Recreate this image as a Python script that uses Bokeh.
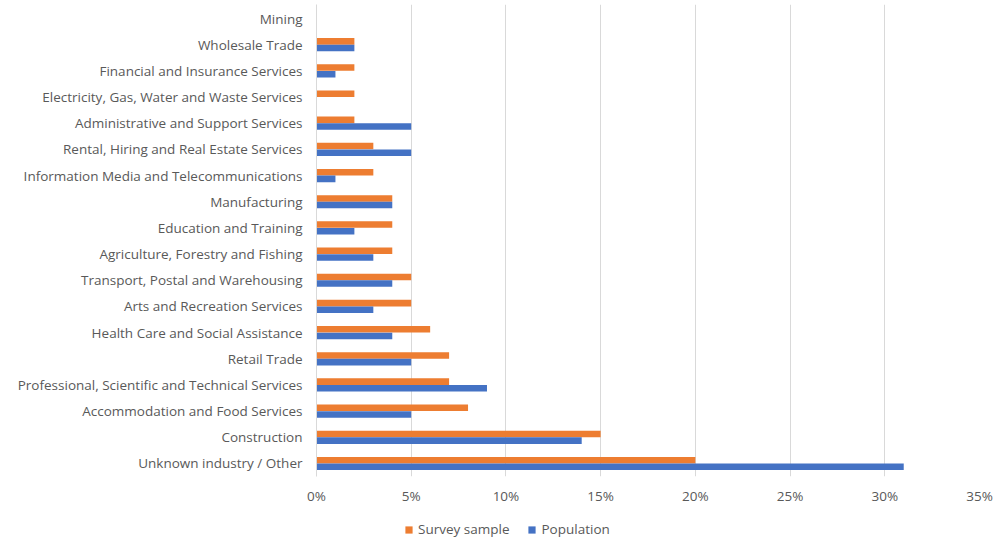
from bokeh.plotting import figure
from bokeh.layouts import column
from bokeh.models import ColumnDataSource, Legend, LegendItem, FixedTicker, Range1d
from bokeh.transform import dodge
from bokeh.embed import file_html
from bokeh.resources import INLINE

# Categories listed bottom to top
industries = [
    "Unknown industry / Other",
    "Construction",
    "Accommodation and Food Services",
    "Professional, Scientific and Technical Services",
    "Retail Trade",
    "Health Care and Social Assistance",
    "Arts and Recreation Services",
    "Transport, Postal and Warehousing",
    "Agriculture, Forestry and Fishing",
    "Education and Training",
    "Manufacturing",
    "Information Media and Telecommunications",
    "Rental, Hiring and Real Estate Services",
    "Administrative and Support Services",
    "Electricity, Gas, Water and Waste Services",
    "Financial and Insurance Services",
    "Wholesale Trade",
    "Mining",
]
survey_sample = [20, 15, 8, 7, 7, 6, 5, 5, 4, 4, 4, 3, 3, 2, 2, 2, 2, 0]
population = [31, 14, 5, 9, 5, 4, 3, 4, 3, 2, 4, 1, 5, 5, 0, 1, 2, 0]
x_ticks = [0, 5, 10, 15, 20, 25, 30, 35]
x_tick_labels = ["0%", "5%", "10%", "15%", "20%", "25%", "30%", "35%"]
series_names = ["Survey sample", "Population"]

ORANGE = "#ED7D31"
BLUE = "#4472C4"
TEXT = "#595959"
GRID = "#D9D9D9"
FONT = "Open Sans"
FS = "13.5px"

src = ColumnDataSource(dict(
    y=list(range(len(industries))),
    survey=survey_sample,
    population=population,
))

p = figure(
    frame_width=663, frame_height=472,
    x_range=Range1d(0, 35), y_range=Range1d(-0.497, 17.535),
    output_backend="svg", toolbar_location=None,
    min_border_left=316, min_border_right=14, min_border_top=4, min_border_bottom=44,
)
p.outline_line_color = None
p.background_fill_color = "white"
p.border_fill_color = "white"

p.hbar(y=dodge("y", 0.127, range=p.y_range), right="survey", left=0, height=0.25,
       source=src, fill_color=ORANGE, line_color=None)
p.hbar(y=dodge("y", -0.127, range=p.y_range), right="population", left=0, height=0.25,
       source=src, fill_color=BLUE, line_color=None)

# X axis
p.xaxis.ticker = FixedTicker(ticks=x_ticks)
p.xaxis.major_label_overrides = {t: l for t, l in zip(x_ticks, x_tick_labels)}
p.xaxis.axis_line_color = None
p.xaxis.major_tick_line_color = None
p.xaxis.minor_tick_line_color = None
p.xaxis.major_tick_out = 0
p.xaxis.major_label_standoff = 10
p.xaxis.major_label_text_font = FONT
p.xaxis.major_label_text_font_size = FS
p.xaxis.major_label_text_color = TEXT

# Y axis
p.yaxis.ticker = FixedTicker(ticks=list(range(len(industries))))
p.yaxis.major_label_overrides = {i: n for i, n in enumerate(industries)}
p.yaxis.axis_line_color = GRID
p.yaxis.major_tick_line_color = None
p.yaxis.minor_tick_line_color = None
p.yaxis.major_tick_out = 0
p.yaxis.major_label_standoff = 14
p.yaxis.major_label_text_font = FONT
p.yaxis.major_label_text_font_size = FS
p.yaxis.major_label_text_color = TEXT

p.xgrid.grid_line_color = GRID
p.xgrid.grid_line_width = 1
p.ygrid.grid_line_color = None

# Legend strip (separate figure below the chart; its frame aligns with the chart's)
lg = figure(
    width=993, height=22, x_range=Range1d(0, 35), y_range=Range1d(100, 101),
    output_backend="svg", toolbar_location=None,
    x_axis_type=None, y_axis_type=None,
    min_border_left=0, min_border_right=0, min_border_top=0, min_border_bottom=0,
)
lg.outline_line_color = None
lg.xgrid.grid_line_color = None
lg.ygrid.grid_line_color = None
# same series, drawn outside the visible range: only their legend swatches show
lr_s = lg.hbar(y="y", right="survey", left=0, height=0.25, source=src,
               fill_color=ORANGE, line_color=None)
lr_p = lg.hbar(y="y", right="population", left=0, height=0.25, source=src,
               fill_color=BLUE, line_color=None)

legend = Legend(items=[
    LegendItem(label=series_names[0], renderers=[lr_s], index=0),
    LegendItem(label=series_names[1], renderers=[lr_p], index=0),
], orientation="horizontal", location=(88, 4))
legend.label_text_font = FONT
legend.label_text_font_size = FS
legend.label_text_color = TEXT
legend.glyph_width = 9
legend.glyph_height = 9
legend.label_height = 14
legend.label_standoff = 5
legend.spacing = 18
legend.padding = 0
legend.margin = 0
legend.border_line_color = None
legend.background_fill_alpha = 0
lg.add_layout(legend, "center")

layout = column(p, lg, spacing=0)
open("out.html", "w").write(file_html(layout, INLINE))
